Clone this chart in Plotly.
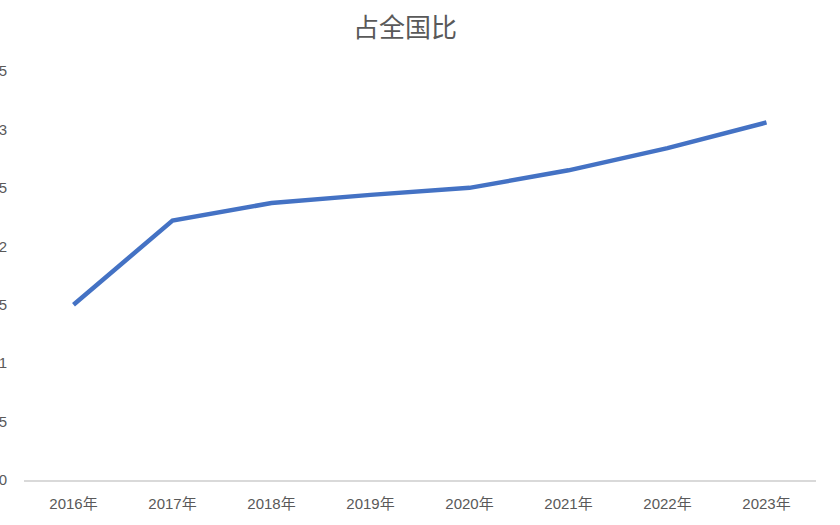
import plotly.graph_objects as go

categories = ["2016年", "2017年", "2018年", "2019年", "2020年", "2021年", "2022年", "2023年"]
values = [1.50, 2.22, 2.37, 2.44, 2.50, 2.65, 2.84, 3.06]
tick_vals = [0, 0.5, 1, 1.5, 2, 2.5, 3, 3.5]
tick_text = ["0", "5", "1", "5", "2", "5", "3", "5"]  # clipped labels as seen in reference

fig = go.Figure()
fig.add_trace(go.Scatter(
    x=categories, y=values, mode="lines",
    line=dict(color="#4472C4", width=4.5),
    hoverinfo="x+y",
))

font_family = "Liberation Sans, Noto Sans CJK SC, sans-serif"
fig.update_layout(
    width=840, height=525,
    paper_bgcolor="white", plot_bgcolor="white",
    margin=dict(l=24, r=24, t=71, b=45, autoexpand=False),
    showlegend=False,
    title=dict(text="占全国比", x=405/840, xanchor="center", y=1 - 28/525, yanchor="middle",
               font=dict(family="Noto Sans CJK SC, sans-serif", size=26, color="#595959")),
    font=dict(family=font_family, size=15, color="#595959"),
)
fig.update_xaxes(
    type="category", range=[-0.5, 7.5], automargin=False,
    showgrid=False, showline=True, linecolor="#D9D9D9", linewidth=1.5,
    ticks="outside", ticklen=9, tickcolor="rgba(0,0,0,0)",
    tickfont=dict(family=font_family, size=15, color="#595959"),
    zeroline=False,
)
fig.update_yaxes(
    range=[0, 3.5], tickvals=tick_vals, ticktext=tick_text, automargin=False,
    showgrid=False, zeroline=False, showline=False,
    ticks="outside", ticklen=13, tickcolor="rgba(0,0,0,0)",
    tickfont=dict(family=font_family, size=15, color="#595959"),
)

fig.write_html("out.html", config={"displayModeBar": False},
               post_script="document.body.style.margin='0';")
